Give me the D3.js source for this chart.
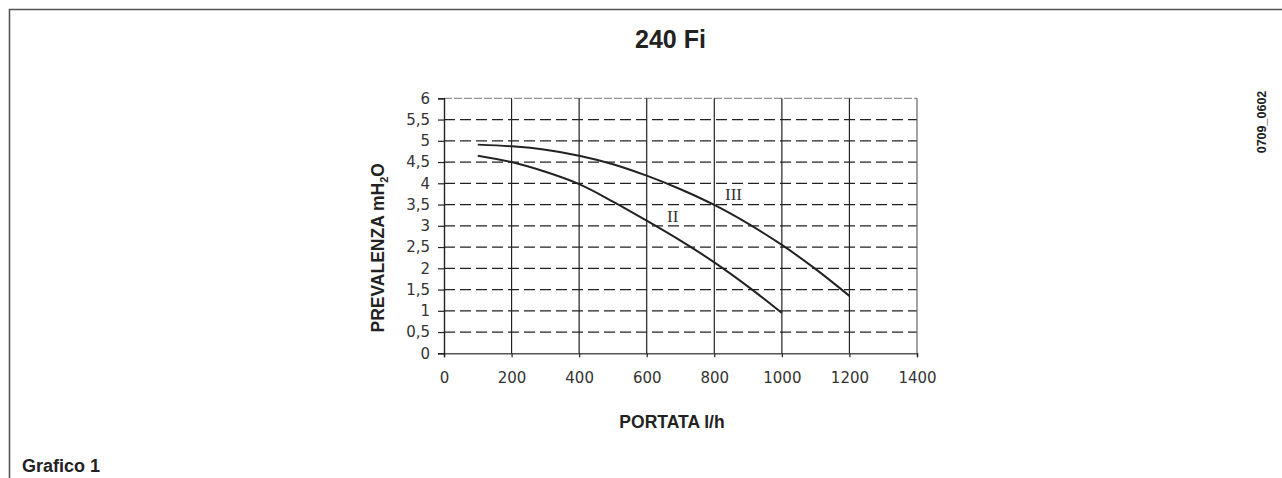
<html lang="ita">
<head>
<script src="https://d3js.org/d3.v7.min.js" charset="utf-8"></script>
<style>
  body { margin: 0; background: #fff; }
  svg { display: block; }
  .lbl { font-family: 'Liberation Sans', Arial, sans-serif; font-weight: bold; fill: #222; }
  .tick text { font-family: 'DejaVu Sans', Verdana, sans-serif; font-size: 15px; fill: #333; }
</style>
</head>
<body>
<script>
  // data
  var flowTicks = [0, 200, 400, 600, 800, 1000, 1200, 1400];
  var headTicks = [0, 0.5, 1, 1.5, 2, 2.5, 3, 3.5, 4, 4.5, 5, 5.5, 6];

  var flowII = [100, 200, 300, 400, 500, 600, 700, 800, 900, 1000];
  var headII = [4.65, 4.5, 4.27, 3.98, 3.57, 3.12, 2.65, 2.14, 1.57, 0.95];

  var flowIII = [100, 200, 300, 400, 500, 600, 700, 800, 900, 1000, 1100, 1200];
  var headIII = [4.91, 4.87, 4.79, 4.65, 4.45, 4.18, 3.86, 3.49, 3.05, 2.55, 1.98, 1.35];

  var width = 1282, height = 478;

  var svg = d3.select("body").append("svg")
      .attr("width", width)
      .attr("height", height);

  // frame (top + left only)
  svg.append("path")
      .attr("d", "M9.5," + height + "V9.5H" + width)
      .attr("fill", "none")
      .attr("stroke", "#555")
      .attr("stroke-width", 1.6);

  var x = d3.scaleLinear().domain([0, 1400]).range([444, 917]);
  var y = d3.scaleLinear().domain([0, 6]).range([353.3, 98.3]);

  // horizontal dashed grid
  svg.append("g").selectAll("line")
      .data(headTicks.filter(function(d) { return d > 0 && d < 6; }))
      .enter().append("line")
      .attr("x1", x(0)).attr("x2", x(1400))
      .attr("y1", function(d) { return y(d); })
      .attr("y2", function(d) { return y(d); })
      .attr("stroke", "#222")
      .attr("stroke-width", 1.2)
      .attr("stroke-dasharray", "11,5");

  // top border, lighter dashed
  svg.append("line")
      .attr("x1", x(0)).attr("x2", x(1400))
      .attr("y1", y(6)).attr("y2", y(6))
      .attr("stroke", "#777")
      .attr("stroke-width", 1)
      .attr("stroke-dasharray", "8,2");

  // vertical solid grid
  svg.append("g").selectAll("line")
      .data(flowTicks.filter(function(d) { return d > 0; }))
      .enter().append("line")
      .attr("x1", function(d) { return x(d); })
      .attr("x2", function(d) { return x(d); })
      .attr("y1", y(0)).attr("y2", y(6))
      .attr("stroke", function(d) { return d == 1400 ? "#666" : "#222"; })
      .attr("stroke-width", 1.2);

  // axes
  var xAxis = d3.axisBottom(x).tickValues(flowTicks).tickSize(4).tickPadding(15)
      .tickFormat(d3.format("d"));
  var gx = svg.append("g").attr("transform", "translate(0," + y(0) + ")").call(xAxis);
  gx.select(".domain").attr("stroke", "#555").attr("stroke-width", 1.5);
  gx.selectAll(".tick line").attr("stroke", "#222").attr("stroke-width", 1.2);

  var yAxis = d3.axisLeft(y).tickValues(headTicks).tickSize(6).tickPadding(8)
      .tickFormat(function(d) { return String(d).replace(".", ","); });
  var gy = svg.append("g").attr("transform", "translate(" + x(0) + ",0)").call(yAxis);
  gy.select(".domain").attr("stroke", "#222").attr("stroke-width", 1.4);
  gy.selectAll(".tick line").attr("stroke", "#222").attr("stroke-width", 1.2);

  // curves
  var line = d3.line()
      .x(function(d) { return x(d[0]); })
      .y(function(d) { return y(d[1]); })
      .curve(d3.curveCatmullRom);

  svg.append("path")
      .datum(d3.zip(flowII, headII))
      .attr("d", line)
      .attr("fill", "none")
      .attr("stroke", "#222")
      .attr("stroke-width", 2);

  svg.append("path")
      .datum(d3.zip(flowIII, headIII))
      .attr("d", line)
      .attr("fill", "none")
      .attr("stroke", "#222")
      .attr("stroke-width", 2);

  // curve labels
  svg.append("text")
      .attr("x", 667).attr("y", 222)
      .attr("font-family", "'Liberation Serif', 'Times New Roman', serif")
      .attr("font-size", 17)
      .attr("fill", "#333")
      .text("II");
  svg.append("text")
      .attr("x", 725).attr("y", 200)
      .attr("font-family", "'Liberation Serif', 'Times New Roman', serif")
      .attr("font-size", 17)
      .attr("fill", "#333")
      .text("III");

  // titles
  svg.append("text").attr("class", "lbl")
      .attr("x", 670.5).attr("y", 48)
      .attr("text-anchor", "middle")
      .attr("font-size", 25)
      .text("240 Fi");

  svg.append("text").attr("class", "lbl")
      .attr("x", 672).attr("y", 428)
      .attr("text-anchor", "middle")
      .attr("font-size", 17.5)
      .text("PORTATA l/h");

  var yt = svg.append("text").attr("class", "lbl")
      .attr("transform", "translate(384,163) rotate(-90)")
      .attr("text-anchor", "end")
      .attr("font-size", 17.5);
  yt.append("tspan").text("PREVALENZA mH");
  yt.append("tspan").attr("font-size", 11).attr("dy", 4).text("2");
  yt.append("tspan").attr("dy", -4).text("O");

  svg.append("text").attr("class", "lbl")
      .attr("transform", "translate(1266,122) rotate(-90)")
      .attr("text-anchor", "middle")
      .attr("font-size", 12.5)
      .text("0709_0602");

  svg.append("text").attr("class", "lbl")
      .attr("x", 22).attr("y", 472)
      .attr("font-size", 18)
      .text("Grafico 1");
</script>
</body>
</html>
